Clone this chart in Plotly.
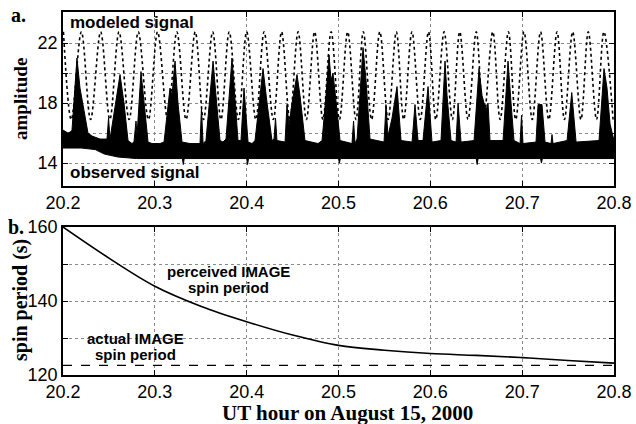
import plotly.graph_objects as go

# ---------------- data ----------------
# modeled signal: times (UT hour) of maxima and minima of the dotted curve
model_peak_t = [20.2005, 20.220, 20.241, 20.261, 20.282, 20.303, 20.324, 20.344, 20.363,
                20.381, 20.400, 20.419, 20.438, 20.456, 20.474, 20.492, 20.510, 20.527,
                20.545, 20.563, 20.580, 20.598, 20.615, 20.632, 20.650, 20.668, 20.685,
                20.702, 20.720, 20.738, 20.755, 20.772, 20.789]
model_trough_t = [20.209, 20.230, 20.251, 20.272, 20.293, 20.314, 20.334, 20.353, 20.372,
                  20.391, 20.410, 20.429, 20.447, 20.465, 20.483, 20.501, 20.519, 20.536,
                  20.554, 20.571, 20.589, 20.606, 20.624, 20.641, 20.658, 20.676, 20.693,
                  20.711, 20.729, 20.746, 20.764, 20.781, 20.799]
model_peak_v = 22.75
model_trough_v = 16.9

# observed signal: upper envelope (spikes) and lower envelope of the dense trace
obs_upper_t = [20.2000, 20.2054, 20.2087, 20.2098, 20.2152, 20.2185, 20.2229, 20.2272, 20.2316,
               20.2403, 20.2479, 20.2496, 20.2512, 20.2534, 20.2621, 20.2664, 20.2708, 20.2751,
               20.2773, 20.2795, 20.2806, 20.2849, 20.2882, 20.2926, 20.2969, 20.3056, 20.3100,
               20.3165, 20.3187, 20.3220, 20.3252, 20.3296, 20.3383, 20.3492, 20.3508, 20.3525,
               20.3557, 20.3634, 20.3666, 20.3710, 20.3742, 20.3775, 20.3840, 20.3873, 20.3906,
               20.3938, 20.3971, 20.4015, 20.4058, 20.4091, 20.4178, 20.4222, 20.4276, 20.4298,
               20.4314, 20.4330, 20.4418, 20.4439, 20.4461, 20.4494, 20.4548, 20.4581, 20.4635,
               20.4777, 20.4821, 20.4864, 20.4897, 20.4919, 20.4940, 20.4984, 20.5017, 20.5147,
               20.5164, 20.5180, 20.5202, 20.5267, 20.5300, 20.5343, 20.5496, 20.5517, 20.5539,
               20.5583, 20.5637, 20.5681, 20.5801, 20.5833, 20.5866, 20.5920, 20.5975, 20.6018,
               20.6116, 20.6160, 20.6182, 20.6225, 20.6280, 20.6302, 20.6334, 20.6476, 20.6530,
               20.6563, 20.6607, 20.6628, 20.6650, 20.6792, 20.6846, 20.6879, 20.6911, 20.6977,
               20.6993, 20.7009, 20.7151, 20.7173, 20.7216, 20.7249, 20.7314, 20.7325, 20.7336,
               20.7489, 20.7540, 20.7587, 20.7837, 20.7891, 20.7924, 20.7957, 20.8000]
obs_upper_v = [16.2, 16.0, 16.1, 16.2, 21.0, 19.0, 17.5, 16.0, 15.8,
               15.6, 15.6, 17.0, 15.6, 16.5, 19.9, 18.0, 15.5, 15.3,
               15.4, 16.8, 15.8, 20.1, 18.0, 15.4, 15.3, 15.3, 15.4,
               19.0, 18.5, 20.8, 18.0, 15.4, 15.3, 15.3, 17.7, 15.3,
               15.5, 20.8, 18.5, 15.5, 15.4, 15.6, 21.0, 18.0, 15.5,
               15.5, 19.0, 15.4, 15.3, 15.5, 20.3, 18.0, 15.5, 15.6,
               17.0, 15.5, 15.4, 17.9, 16.5, 18.0, 19.9, 18.5, 15.5,
               15.3, 15.5, 18.5, 21.2, 19.5, 20.0, 17.5, 15.5, 15.3,
               16.8, 15.3, 15.6, 21.7, 19.5, 15.6, 15.4, 17.9, 15.8,
               17.0, 19.1, 15.5, 15.4, 17.9, 15.5, 15.5, 19.1, 15.4,
               15.5, 20.8, 18.5, 15.5, 15.4, 18.0, 15.4, 15.5, 20.3,
               18.5, 17.5, 18.0, 15.5, 15.5, 20.8, 18.0, 15.5, 15.3,
               17.2, 15.3, 15.4, 17.9, 17.9, 15.4, 15.3, 15.9, 15.3,
               15.5, 18.7, 15.4, 15.5, 20.3, 19.0, 16.6, 15.5]
obs_lower_t = [20.2000, 20.2200, 20.2350, 20.2450, 20.2600, 20.2800, 20.3300, 20.3310,
               20.3320, 20.4000, 20.4010, 20.4020, 20.5000, 20.5010, 20.5020, 20.6500,
               20.6510, 20.6520, 20.7200, 20.7210, 20.7220, 20.8000]
obs_lower_v = [15.0, 15.0, 14.9, 14.6, 14.4, 14.3, 14.3, 13.9,
               14.3, 14.3, 13.9, 14.3, 14.3, 14.0, 14.3, 14.3,
               13.9, 14.3, 14.3, 14.0, 14.3, 14.3]

# spin period panel
period_t = [20.20, 20.25, 20.30, 20.35, 20.40, 20.45, 20.50, 20.55, 20.60, 20.65, 20.70, 20.75, 20.80]
perceived_period = [160.0, 151.6, 144.0, 138.6, 134.4, 130.8, 128.0, 126.7, 125.8, 125.3, 124.7, 123.9, 123.2]
actual_period = 122.6

x_ticks = [20.2, 20.3, 20.4, 20.5, 20.6, 20.7, 20.8]
x_ticklabels = ["20.2", "20.3", "20.4", "20.5", "20.6", "20.7", "20.8"]
amp_ticks = [14, 16, 18, 20, 22]
amp_ticklabels = ["14", "", "18", "", "22"]
per_ticks = [120, 130, 140, 150, 160]
per_ticklabels = ["120", "", "140", "", "160"]

# ---------------- figure ----------------
W, H = 636, 424
def px(x):
    return x / W
def py(y):
    return 1 - y / H

SANS = "Liberation Sans"
SERIF = "Liberation Serif"

# interleave the modeled extrema
model_t, model_v = [], []
for p, t in zip(model_peak_t, model_trough_t):
    model_t += [p, t]
    model_v += [model_peak_v, model_trough_v]

fig = go.Figure()

fig.add_trace(go.Scatter(
    x=obs_upper_t + obs_lower_t[::-1],
    y=obs_upper_v + obs_lower_v[::-1],
    fill="toself", fillcolor="black", mode="lines",
    line=dict(color="black", width=1), xaxis="x", yaxis="y", hoverinfo="skip"))

fig.add_trace(go.Scatter(
    x=model_t, y=model_v, mode="lines",
    line=dict(color="black", width=1.6, dash="dot", shape="spline", smoothing=1.0),
    xaxis="x", yaxis="y"))

fig.add_trace(go.Scatter(
    x=period_t, y=perceived_period, mode="lines",
    line=dict(color="black", width=1.6, shape="spline"),
    xaxis="x2", yaxis="y2"))

fig.add_trace(go.Scatter(
    x=[period_t[0], period_t[-1]], y=[actual_period, actual_period], mode="lines",
    line=dict(color="black", width=1.2, dash="dash"),
    xaxis="x2", yaxis="y2"))

axis_common = dict(
    showline=True, linecolor="black", linewidth=1.5, mirror="ticks",
    ticks="inside", ticklen=5, tickcolor="black", tickwidth=1,
    showgrid=True, gridcolor="#8a8a8a", griddash="dot", gridwidth=1,
    zeroline=False, automargin=False,
    tickfont=dict(family=SANS, size=18, color="black"),
)

fig.update_layout(
    template="none",
    width=W, height=H, margin=dict(l=0, r=0, t=0, b=0, pad=0),
    paper_bgcolor="white", plot_bgcolor="white", showlegend=False,
    xaxis=dict(domain=[px(63), px(614)], range=[20.2, 20.8], tickvals=x_ticks,
               ticktext=x_ticklabels, anchor="y", **axis_common),
    yaxis=dict(domain=[py(186), py(12)], range=[12.47, 24.07], tickvals=amp_ticks,
               ticktext=amp_ticklabels, anchor="x", **axis_common),
    xaxis2=dict(domain=[px(63), px(614)], range=[20.2, 20.8], tickvals=x_ticks,
                ticktext=x_ticklabels, anchor="y2", **axis_common),
    yaxis2=dict(domain=[py(375), py(227)], range=[120, 160], tickvals=per_ticks,
                ticktext=per_ticklabels, anchor="x2", **axis_common),
)

def ann(text, x, y, size, family, xanchor="center", angle=0):
    fig.add_annotation(text=text, x=px(x), y=py(y), xref="paper", yref="paper",
                       showarrow=False, xanchor=xanchor, yanchor="middle",
                       textangle=angle, font=dict(family=family, size=size, color="black"))

ann("<b>a.</b>", 18, 15, 20, SERIF)
ann("<b>b.</b>", 16, 227, 20, SERIF)
ann("<b>amplitude</b>", 20, 99, 19, SERIF, angle=-90)
ann("<b>spin period (s)</b>", 20, 300, 20, SERIF, angle=-90)
ann("<b>UT hour on August 15, 2000</b>", 347, 413, 21, SERIF)
ann("<b>modeled signal</b>", 68, 22, 17, SANS, xanchor="left")
ann("<b>observed signal</b>", 68, 173, 17, SANS, xanchor="left")
ann("<b>perceived IMAGE</b>", 229, 271, 15, SANS)
ann("<b>spin period</b>", 229, 287, 15, SANS)
ann("<b>actual IMAGE</b>", 135, 338, 15, SANS)
ann("<b>spin period</b>", 135, 354, 15, SANS)

fig.write_html("out.html", config={"displayModeBar": False},
               post_script="document.body.style.margin='0';document.body.style.padding='0';")
